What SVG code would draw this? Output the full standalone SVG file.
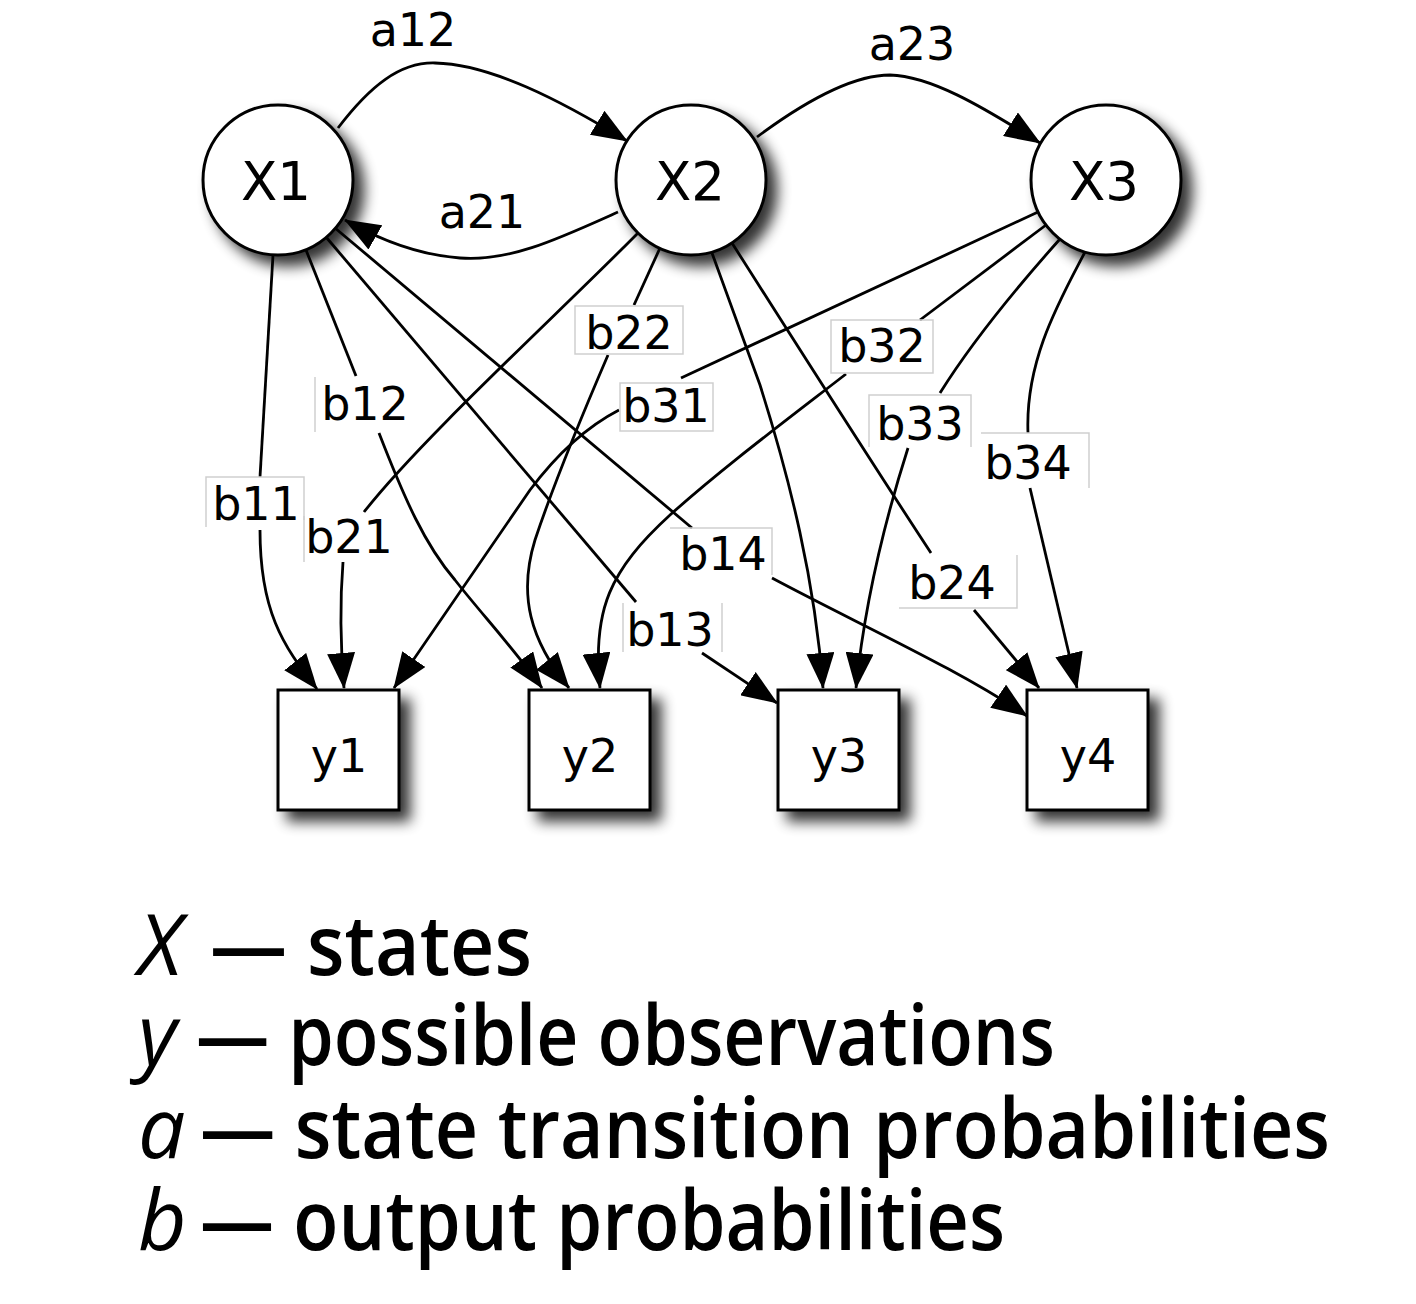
<svg xmlns="http://www.w3.org/2000/svg" width="1416" height="1304" viewBox="0 0 1416 1304">
<style>
.node{fill:#fff;stroke:#000;stroke-width:3}
.nt{font-family:"DejaVu Sans",sans-serif;font-size:53px;text-anchor:middle;fill:#000}
.yt{font-family:"DejaVu Sans",sans-serif;font-size:46px;text-anchor:middle;fill:#000}
.lt{font-family:"DejaVu Sans",sans-serif;font-size:46px;text-anchor:middle;fill:#000}
.e{fill:none;stroke:#000;stroke-width:2.8}
.lb{fill:none;stroke:#cfcfcf;stroke-width:1.5}
.leg{font-family:"Open Sans","DejaVu Sans",sans-serif;font-size:84px;font-weight:600;fill:#000}
.it{font-style:italic;font-weight:400}
</style>
<defs>
<filter id="sh" x="-30%" y="-30%" width="170%" height="170%">
<feGaussianBlur in="SourceAlpha" stdDeviation="7"/>
<feOffset dx="10" dy="10" result="b"/>
<feComponentTransfer><feFuncA type="linear" slope="0.8"/></feComponentTransfer>
<feMerge><feMergeNode/><feMergeNode in="SourceGraphic"/></feMerge>
</filter>
<marker id="ar" markerUnits="userSpaceOnUse" markerWidth="36" markerHeight="28" viewBox="0 0 36 28" refX="35" refY="14" orient="auto">
<path d="M0,0 L36,14 L0,28 z" fill="#000"/>
</marker>
</defs>
<rect width="1416" height="1304" fill="#fff"/>

<g id="connectors">
<g id="e-a12"><path class="e" d="M338,128 C370,86 400,62 435,63 C490,64 560,100 627,141" marker-end="url(#ar)"/><text class="lt" x="413" y="46">a12</text></g>
<g id="e-a21"><path class="e" d="M618,212 C560,238 510,262 460,258 C420,255 380,240 345,220" marker-end="url(#ar)"/><text class="lt" x="482" y="228">a21</text></g>
<g id="e-a23"><path class="e" d="M757,137 C800,105 850,75 890,75 C930,76 980,105 1040,143" marker-end="url(#ar)"/><text class="lt" x="912" y="60">a23</text></g>

<g id="e-b11"><path class="e" d="M273,255 L260,477"/><path class="e" d="M260,530 C260,610 282,645 317,689" marker-end="url(#ar)"/>
<path class="lb" d="M206,527 V477 H304 V520"/><text class="lt" x="256" y="520">b11</text></g>
<g id="e-b12"><path class="e" d="M306,250 L356,376"/><path class="e" d="M379,433 C405,500 425,545 455,580 C480,612 515,650 542,688" marker-end="url(#ar)"/>
<path class="lb" d="M315,377 V432"/><text class="lt" x="365" y="420">b12</text></g>
<g id="e-b13"><path class="e" d="M326,237 L636,602"/><path class="e" d="M702,653 L777,703" marker-end="url(#ar)"/>
<path class="lb" d="M623,603 V652 M722,603 V652"/><text class="lt" x="670" y="646">b13</text></g>
<g id="e-b14"><path class="e" d="M335,228 L692,528"/><path class="e" d="M772,578 C860,625 960,670 1027,716" marker-end="url(#ar)"/>
<path class="lb" d="M670,528 H772 V575"/><text class="lt" x="723" y="570">b14</text></g>
<g id="e-b21"><path class="e" d="M638,233 C560,312 420,440 364,512"/><path class="e" d="M343,562 C340,600 340,640 344,688" marker-end="url(#ar)"/>
<path class="lb" d="M304,516 V562"/><text class="lt" x="349" y="553">b21</text></g>
<g id="e-b22"><path class="e" d="M660,248 L634,305"/><path class="e" d="M608,355 C580,420 555,480 535,540 C518,595 530,640 569,688" marker-end="url(#ar)"/>
<path class="lb" d="M575,306 H683 V354 H575 Z"/><text class="lt" x="629" y="349">b22</text></g>
<g id="e-b23"><path class="e" d="M712,253 L760,385 C790,480 815,580 823,688" marker-end="url(#ar)"/></g>
<g id="e-b24"><path class="e" d="M732,243 C800,350 870,460 931,553"/><path class="e" d="M974,610 L1039,688" marker-end="url(#ar)"/>
<path class="lb" d="M1017,555 V608 H899"/><text class="lt" x="952" y="599">b24</text></g>
<g id="e-b31"><path class="e" d="M1038,212 L681,378"/><path class="e" d="M619,410 C590,425 560,450 530,490 L394,688" marker-end="url(#ar)"/>
<path class="lb" d="M620,383 H713 V431 H620 Z"/><text class="lt" x="666" y="422">b31</text></g>
<g id="e-b32"><path class="e" d="M1046,225 L920,320"/><path class="e" d="M846,374 C780,425 720,470 670,515 C610,570 592,610 600,688" marker-end="url(#ar)"/>
<path class="lb" d="M831,320 H933 V373 H831 Z"/><text class="lt" x="882" y="362">b32</text></g>
<g id="e-b33"><path class="e" d="M1060,239 C1010,295 970,345 940,393"/><path class="e" d="M908,448 C885,520 865,600 856,688" marker-end="url(#ar)"/>
<path class="lb" d="M869,447 V395 H971 V447"/><text class="lt" x="920" y="440">b33</text></g>
<g id="e-b34"><path class="e" d="M1085,252 C1060,300 1025,360 1028,433"/><path class="e" d="M1030,488 L1077,688" marker-end="url(#ar)"/>
<path class="lb" d="M981,433 H1089 V488"/><text class="lt" x="1028" y="479">b34</text></g>
</g>

<g id="X1"><circle class="node" cx="278" cy="180" r="75" filter="url(#sh)"/><text class="nt" x="276" y="200">X1</text></g>
<g id="X2"><circle class="node" cx="691" cy="180" r="75" filter="url(#sh)"/><text class="nt" x="690" y="200">X2</text></g>
<g id="X3"><circle class="node" cx="1106" cy="180" r="75" filter="url(#sh)"/><text class="nt" x="1104" y="200">X3</text></g>

<g id="y1"><rect class="node" x="278" y="690" width="121" height="120" filter="url(#sh)"/><text class="yt" x="339" y="772">y1</text></g>
<g id="y2"><rect class="node" x="529" y="690" width="121" height="120" filter="url(#sh)"/><text class="yt" x="590" y="772">y2</text></g>
<g id="y3"><rect class="node" x="778" y="690" width="121" height="120" filter="url(#sh)"/><text class="yt" x="839" y="772">y3</text></g>
<g id="y4"><rect class="node" x="1027" y="690" width="121" height="120" filter="url(#sh)"/><text class="yt" x="1088" y="772">y4</text></g>

<g id="legend">
<text class="leg it" x="138" y="975">X</text>
<text class="leg" x="210" y="975" textLength="322" lengthAdjust="spacingAndGlyphs">— states</text>
<text class="leg it" x="138" y="1065">y</text>
<text class="leg" x="196" y="1065" textLength="859" lengthAdjust="spacingAndGlyphs">— possible observations</text>
<text class="leg it" x="138" y="1158">a</text>
<text class="leg" x="200" y="1158" textLength="1130" lengthAdjust="spacingAndGlyphs">— state transition probabilities</text>
<text class="leg it" x="138" y="1250">b</text>
<text class="leg" x="200" y="1250" textLength="805" lengthAdjust="spacingAndGlyphs">— output probabilities</text>
</g>
</svg>
